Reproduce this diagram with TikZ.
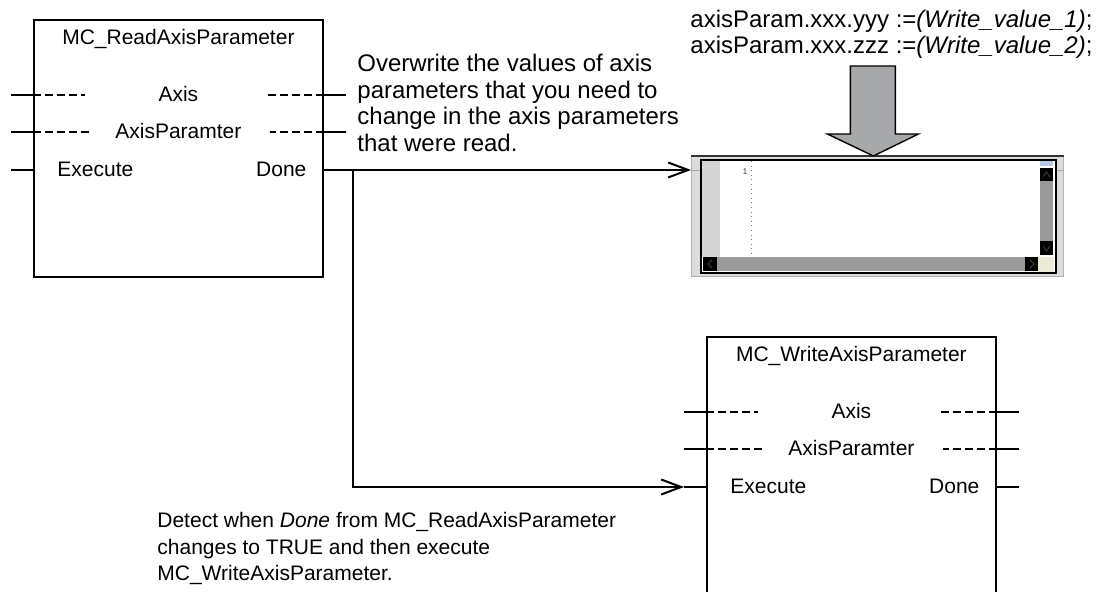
\documentclass[tikz,border=0pt]{standalone}
\usepackage{fontspec}
\setmainfont{Liberation Sans}
\usetikzlibrary{arrows.meta,positioning}
\definecolor{framegray}{HTML}{DCDCDC}
\definecolor{guttergray}{HTML}{D5D5D5}
\definecolor{trackgray}{HTML}{9A9A9A}
\definecolor{arrowgray}{HTML}{A7A8AA}
\definecolor{cornerbeige}{HTML}{EEEAD8}
\definecolor{scrollblue}{HTML}{B8C8E2}
\tikzset{fb/.style={draw,line width=.9pt,anchor=north west,minimum width=144.5pt,inner sep=0pt},pin/.style={line width=.75pt},innerdash/.style={line width=.65pt,dash pattern=on 4pt off 2pt},fbtext/.style={font=\fontsize{10.5pt}{12pt}\selectfont,inner sep=0pt},note/.style={align=left,inner sep=0pt,anchor=north west},flow/.style={-{Straight Barb[length=10pt,width=7.5pt,line width=1pt]},line width=1pt},bigarrow/.style={draw,line width=.7pt,fill=arrowgray,line join=miter},btn/.style={draw=gray!50!black,line width=.4pt}}
\begin{document}
\begin{tikzpicture}[x=.5pt,y=-.5pt]
\useasboundingbox (0,0) rectangle (1102,592);
\clip (0,0) rectangle (1102,592);
\node[fb,minimum height=128.5pt] (readfb) at (33,19) {};
\node[fb,minimum height=140pt] (writefb) at (706,336) {};
\foreach \fb/\title in {readfb/MC\_ReadAxisParameter,writefb/MC\_WriteAxisParameter}{
  \foreach \row/\dy in {axis/38pt,param/56.5pt,exec/75.5pt}{
    \coordinate (\fb-\row-in) at ([yshift=-\dy]\fb.north west);
    \coordinate (\fb-\row-out) at ([yshift=-\dy]\fb.north east);
    \coordinate (\fb-\row-l) at ([xshift=-11pt]\fb-\row-in);
    \draw[pin] (\fb-\row-l) -- (\fb-\row-in);
    \draw[pin] (\fb-\row-out) -- ++(11pt,0);
  }
  \draw[innerdash] (\fb-axis-in) -- ++(26pt,0);
  \draw[innerdash] (\fb-param-in) -- ++(28.5pt,0);
  \draw[innerdash] (\fb-axis-out) -- ++(-28pt,0);
  \draw[innerdash] (\fb-param-out) -- ++(-27pt,0);
  \node[fbtext,anchor=base] (\fb-title) at ([yshift=-13pt]\fb.north) {\title};
  \node[fbtext,anchor=base] (\fb-axis) at ([yshift=-41.5pt]\fb.north) {Axis};
  \node[fbtext,anchor=base] (\fb-param) at ([yshift=-60pt]\fb.north) {AxisParamter};
  \node[fbtext,anchor=base west] (\fb-exec) at ([xshift=12pt,yshift=-79pt]\fb.north west) {Execute};
  \node[fbtext,anchor=base east] (\fb-done) at ([xshift=-8.5pt,yshift=-79pt]\fb.north east) {Done};
}
\node[draw=gray!60,line width=.4pt,fill=framegray,anchor=north west,minimum width=186pt,minimum height=60pt,inner sep=0pt] (editor) at (691,156) {};
\draw[black!80,line width=1pt] (editor.north west) -- (editor.north east);
\coordinate (edin) at ([yshift=-7pt]editor.north west);
\draw[gray!70,line width=.4pt] (edin) -- (edin -| editor.east);
\draw[line width=.85pt,fill=white] (701,160) rectangle (1056,273);
\fill[guttergray] (702,161) rectangle (720,257);
\draw[gray,dotted,line width=.3pt] (751,161) -- (751,257);
\node[font=\fontsize{5pt}{5.5pt}\ttfamily,text=gray!60!black,anchor=base east,inner sep=0pt] (lineno) at (748,175) {1};
\fill[scrollblue] (1040,161) rectangle (1053,166);
\fill (1040,168) rectangle (1053,181);
\fill[trackgray] (1040,181) rectangle (1053,241);
\fill (1040,241) rectangle (1053,255);
\fill[trackgray] (703,257) rectangle (1038,271);
\fill (703,257) rectangle (717,271);
\fill (1025,257) rectangle (1038,271);
\fill[cornerbeige] (1038,257) rectangle (1054,272);
\draw[btn] (1043,177) -- (1046.5,172) -- (1050,177);
\draw[btn] (1043,246) -- (1046.5,251) -- (1050,246);
\draw[btn] (712,260) -- (708,264) -- (712,268);
\draw[btn] (1030,260) -- (1034,264) -- (1030,268);
\coordinate (tip) at ([xshift=-2pt]editor.north);
\draw[bigarrow] (tip) -- ++(-46,-22) -- ++(23,0) -- ++(0,-68) -- ++(45,0) -- ++(0,68) -- ++(23,0) -- cycle;
\node[note,font=\fontsize{12pt}{13pt}\selectfont] (code) at (690,10) {axisParam.xxx.yyy :=\textit{(Write\_value\_1)};\\axisParam.xxx.zzz :=\textit{(Write\_value\_2)};};
\node[note,font=\fontsize{12pt}{13.25pt}\selectfont] (overwrite) at (357,54) {Overwrite the values of axis\\parameters that you need to\\change in the axis parameters\\that were read.};
\node[note,font=\fontsize{10.5pt}{13.25pt}\selectfont] (detect) at (157,512) {Detect when \textit{Done} from MC\_ReadAxisParameter\\changes to TRUE and then execute\\MC\_WriteAxisParameter.};
\draw[flow] (readfb-exec-out) -- (edin);
\coordinate (branch) at ([xshift=14.5pt]readfb-exec-out);
\draw[flow] (branch) |- (writefb-exec-l);
\end{tikzpicture}
\end{document}
